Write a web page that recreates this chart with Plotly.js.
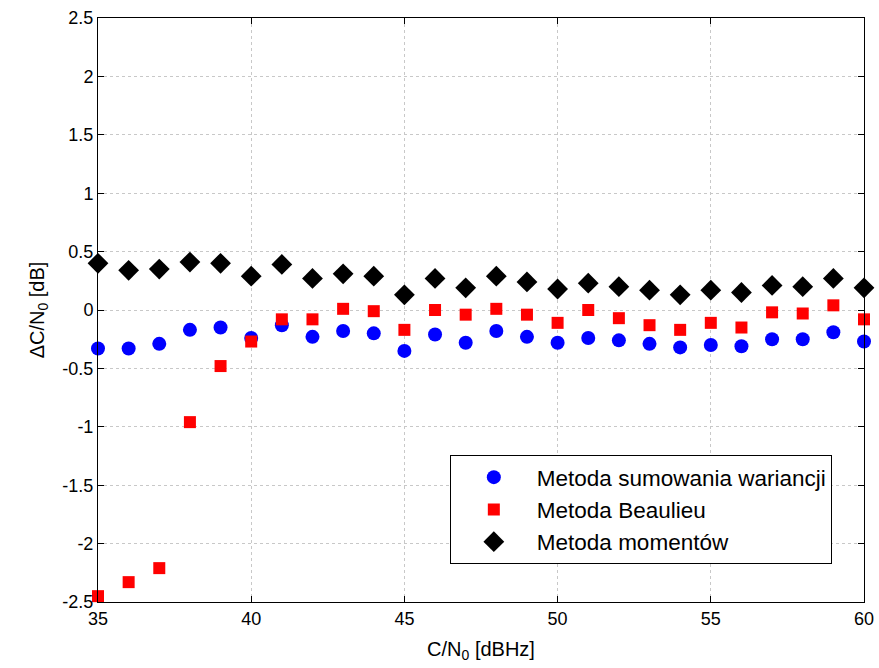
<!DOCTYPE html>
<html>
<head>
<meta charset="utf-8">
<script src="https://cdn.plot.ly/plotly-3.0.1.min.js"></script>
<style>html,body{margin:0;padding:0;background:#fff;}#chart{width:879px;height:668px;}</style>
</head>
<body>
<div id="chart"></div>
<script>
const cn0 = [35,36,37,38,39,40,41,42,43,44,45,46,47,48,49,50,51,52,53,54,55,56,57,58,59,60];
const sumowania = [-0.33,-0.33,-0.29,-0.17,-0.15,-0.24,-0.13,-0.23,-0.18,-0.20,-0.35,-0.21,-0.28,-0.18,-0.23,-0.28,-0.24,-0.26,-0.29,-0.32,-0.30,-0.31,-0.25,-0.25,-0.19,-0.27];
const beaulieu = [-2.45,-2.33,-2.21,-0.96,-0.48,-0.27,-0.08,-0.08,0.01,-0.01,-0.17,0.00,-0.04,0.01,-0.04,-0.11,0.00,-0.07,-0.13,-0.17,-0.11,-0.15,-0.02,-0.03,0.04,-0.08];
const momentow = [0.40,0.34,0.35,0.41,0.40,0.29,0.39,0.27,0.31,0.29,0.13,0.27,0.19,0.29,0.24,0.18,0.23,0.20,0.17,0.13,0.17,0.15,0.21,0.20,0.27,0.19];
const names = ['Metoda sumowania wariancji','Metoda Beaulieu','Metoda momentów'];
const xTicks = [35,40,45,50,55,60];
const yTicks = [-2.5,-2,-1.5,-1,-0.5,0,0.5,1,1.5,2,2.5];

const font = {family: 'Liberation Sans, Arial, sans-serif', color: '#000'};
const traces = [
  {x: cn0, y: sumowania, name: names[0], mode: 'markers', type: 'scatter', cliponaxis: false,
   marker: {symbol: 'circle', size: 14, color: '#0000ff'}},
  {x: cn0, y: beaulieu, name: names[1], mode: 'markers', type: 'scatter', cliponaxis: false,
   marker: {symbol: 'square', size: 12, color: '#ff0000'}},
  {x: cn0, y: momentow, name: names[2], mode: 'markers', type: 'scatter', cliponaxis: false,
   marker: {symbol: 'diamond', size: 16, color: '#000000'}}
];
const axisCommon = {
  showline: true, linecolor: '#000', linewidth: 1, mirror: 'ticks',
  ticks: 'inside', ticklen: 6, tickcolor: '#000',
  showgrid: true, gridcolor: '#c8c8c8', griddash: 'dot', gridwidth: 1,
  zeroline: false, tickfont: Object.assign({size: 18}, font)
};
const layout = {
  width: 879, height: 668,
  margin: {l: 98, r: 15, t: 18, b: 66},
  paper_bgcolor: '#fff', plot_bgcolor: '#fff',
  showlegend: true,
  font: font,
  xaxis: Object.assign({}, axisCommon, {
    range: [35, 60], tickvals: xTicks, ticktext: xTicks.map(String),
    title: {text: 'C/N<sub>0</sub> [dBHz]', font: Object.assign({size: 20}, font), standoff: 14}
  }),
  yaxis: Object.assign({}, axisCommon, {
    range: [-2.5, 2.5], tickvals: yTicks, ticktext: yTicks.map(String),
    title: {text: '\u0394C/N<sub>0</sub> [dB]', font: Object.assign({size: 20}, font), standoff: 12}
  }),
  legend: {
    x: 0.958, xanchor: 'right', y: 0.065, yanchor: 'bottom',
    bgcolor: '#fff', bordercolor: '#000', borderwidth: 1,
    font: Object.assign({size: 22.5}, font),
    itemwidth: 76
  }
};
Plotly.newPlot('chart', traces, layout, {displayModeBar: false, staticPlot: true});
</script>
</body>
</html>
